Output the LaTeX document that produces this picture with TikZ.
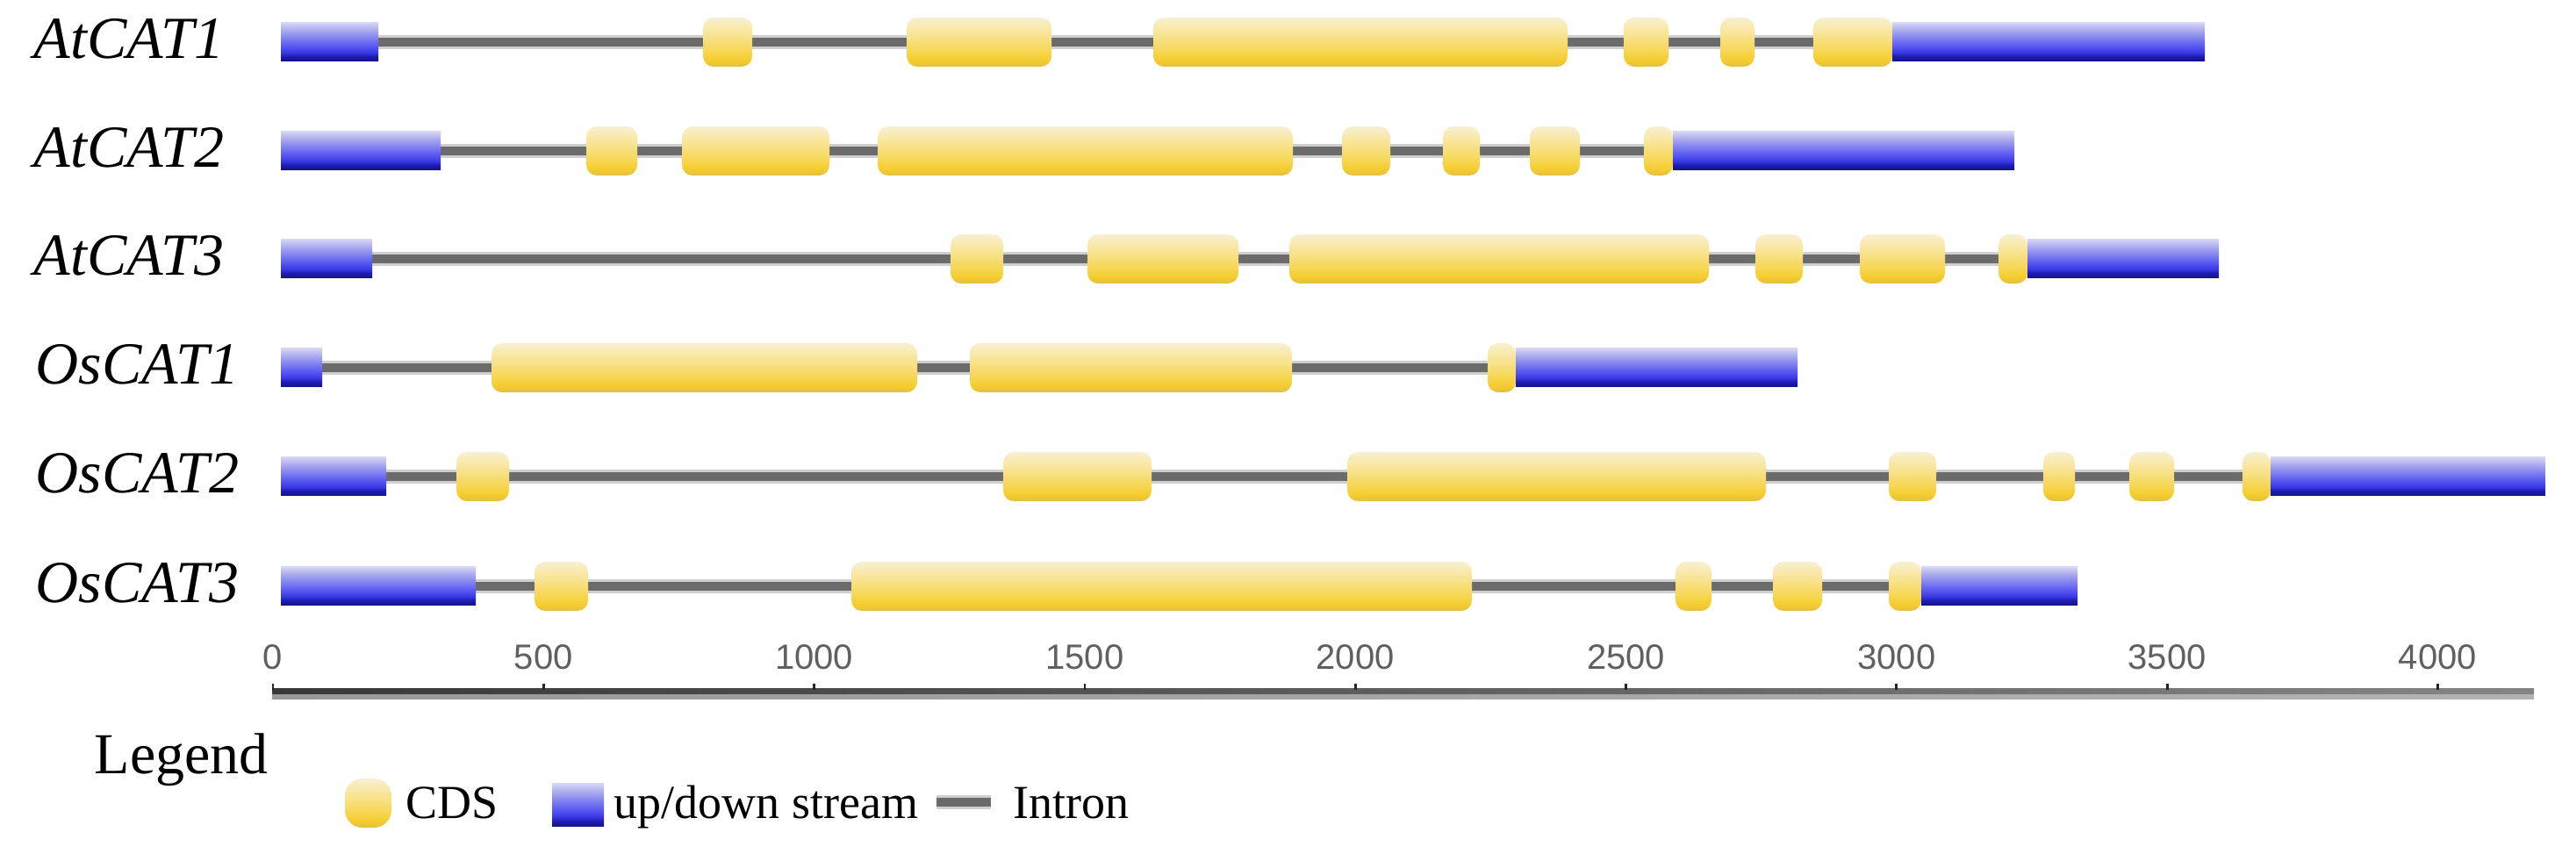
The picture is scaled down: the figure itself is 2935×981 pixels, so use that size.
\documentclass[tikz,border=0pt]{standalone}
\usepackage{fontspec}
\setmainfont{Liberation Serif}
\newfontfamily\ticksans{Liberation Sans}
\definecolor{exD}{HTML}{E0BE4A}
\definecolor{exC}{HTML}{F4CC2C}
\definecolor{exB}{HTML}{F6D448}
\definecolor{exM}{HTML}{F8DF7E}
\definecolor{exL}{HTML}{F9E9AC}
\definecolor{exT}{HTML}{F7F0D2}
\definecolor{bD}{HTML}{141480}
\definecolor{bD2}{HTML}{1A1AB0}
\definecolor{bC}{HTML}{3A3AE6}
\definecolor{bB}{HTML}{5C5CF2}
\definecolor{bM}{HTML}{8080F0}
\definecolor{bL}{HTML}{A8A8EE}
\definecolor{bT}{HTML}{D4D4F6}
\definecolor{intronDark}{HTML}{6B6B6B}
\definecolor{intronLight}{HTML}{CFCFCF}
\definecolor{tickgray}{HTML}{606060}
\pgfdeclareverticalshading{exonshade}{100bp}{color(0bp)=(exD); color(25bp)=(exD); color(31bp)=(exC); color(38bp)=(exB); color(52bp)=(exM); color(65bp)=(exL); color(75bp)=(exT); color(100bp)=(exT)}
\pgfdeclareverticalshading{utrshade}{100bp}{color(0bp)=(bD); color(25bp)=(bD); color(31bp)=(bD2); color(37bp)=(bC); color(46bp)=(bB); color(55bp)=(bM); color(65bp)=(bL); color(75bp)=(bT); color(100bp)=(bT)}
\newcommand\intronline[3]{\draw[intronbg] (#1,#3) -- (#2,#3); \draw[intronfg] (#1,#3) -- (#2,#3);}
\newcommand\utrbox[3]{\shade[shading=utrshade] (#1,#3-22) rectangle (#2,#3+22);}
\newcommand\exonbox[3]{\shade[shading=exonshade, rounded corners=3pt] (#1,#3-28) rectangle (#2,#3+28);}
\begin{document}
\begin{tikzpicture}[x=0.25pt,y=-0.25pt,
  intronbg/.style={line width=4pt, intronLight},
  intronfg/.style={line width=2.3pt, intronDark},
  glabel/.style={anchor=base west, inner sep=0pt, font=\fontsize{17}{20}\selectfont\itshape},
  ticklabel/.style={anchor=center, inner sep=0pt, text=tickgray, font=\fontsize{10}{12}\selectfont\ticksans},
  legtext/.style={anchor=base west, inner sep=0pt, font=\fontsize{13.5}{16}\selectfont}]
\useasboundingbox (0,0) rectangle (2935,981);
\fill[white] (0,0) rectangle (2935,981);

% ---------- AtCAT1 ----------
\node[glabel] (g1) at (38,67) {AtCAT1};
\intronline{431}{2156}{48}
\utrbox{320}{431}{48}
\foreach \a/\b in {801/857, 1033/1198, 1314/1786, 1850/1901, 1960/1999, 2066/2156} {\exonbox{\a}{\b}{48}}
\utrbox{2156}{2512}{48}

% ---------- AtCAT2 ----------
\node[glabel] (g2) at (38,191) {AtCAT2};
\intronline{502}{1906}{172}
\utrbox{320}{502}{172}
\foreach \a/\b in {668/726, 777/945, 1000/1473, 1529/1584, 1644/1686, 1743/1800, 1873/1906} {\exonbox{\a}{\b}{172}}
\utrbox{1906}{2295}{172}

% ---------- AtCAT3 ----------
\node[glabel] (g3) at (38,314) {AtCAT3};
\intronline{424}{2310}{295}
\utrbox{320}{424}{295}
\foreach \a/\b in {1083/1143, 1239/1411, 1469/1947, 2000/2054, 2119/2216, 2277/2310} {\exonbox{\a}{\b}{295}}
\utrbox{2310}{2528}{295}

% ---------- OsCAT1 ----------
\node[glabel] (g4) at (40,438) {OsCAT1};
\intronline{367}{1727}{419}
\utrbox{320}{367}{419}
\foreach \a/\b in {560/1045, 1105/1472, 1695/1727} {\exonbox{\a}{\b}{419}}
\utrbox{1727}{2048}{419}

% ---------- OsCAT2 ----------
\node[glabel] (g5) at (40,562) {OsCAT2};
\intronline{440}{2587}{543}
\utrbox{320}{440}{543}
\foreach \a/\b in {520/580, 1143/1312, 1535/2012, 2152/2206, 2328/2364, 2426/2477, 2555/2587} {\exonbox{\a}{\b}{543}}
\utrbox{2587}{2900}{543}

% ---------- OsCAT3 ----------
\node[glabel] (g6) at (40,687) {OsCAT3};
\intronline{542}{2189}{668}
\utrbox{320}{542}{668}
\foreach \a/\b in {609/670, 970/1677, 1909/1950, 2020/2076, 2152/2189} {\exonbox{\a}{\b}{668}}
\utrbox{2189}{2367}{668}

% ---------- scale axis ----------
\shade[left color=black!78, right color=black!48] (310,785) rectangle (2887,792);
\shade[left color=black!40, right color=black!30] (310,792) rectangle (2887,797);
\foreach \k/\lab in {0/0, 1/500, 2/1000, 3/1500, 4/2000, 5/2500, 6/3000, 7/3500, 8/4000} {
  \draw[line width=0.7pt, black!85] ({311+308.3*\k},779) -- ({311+308.3*\k},786);
  \node[ticklabel] (t\k) at ({311+308.3*\k},749) {\lab};
}

% ---------- legend ----------
\node[anchor=base west, inner sep=0pt, font=\fontsize{16.5}{19}\selectfont] (leg) at (107,882) {Legend};
\shade[shading=exonshade, rounded corners=5pt] (393,887) rectangle (446,943);
\node[legtext] (lcds) at (462,933) {CDS};
\shade[shading=utrshade] (629,893) rectangle (688,942);
\node[legtext] (lutr) at (699,933) {up/down stream};
\intronline{1067}{1129}{914}
\node[legtext] (lint) at (1154,933) {Intron};
\end{tikzpicture}
\end{document}
